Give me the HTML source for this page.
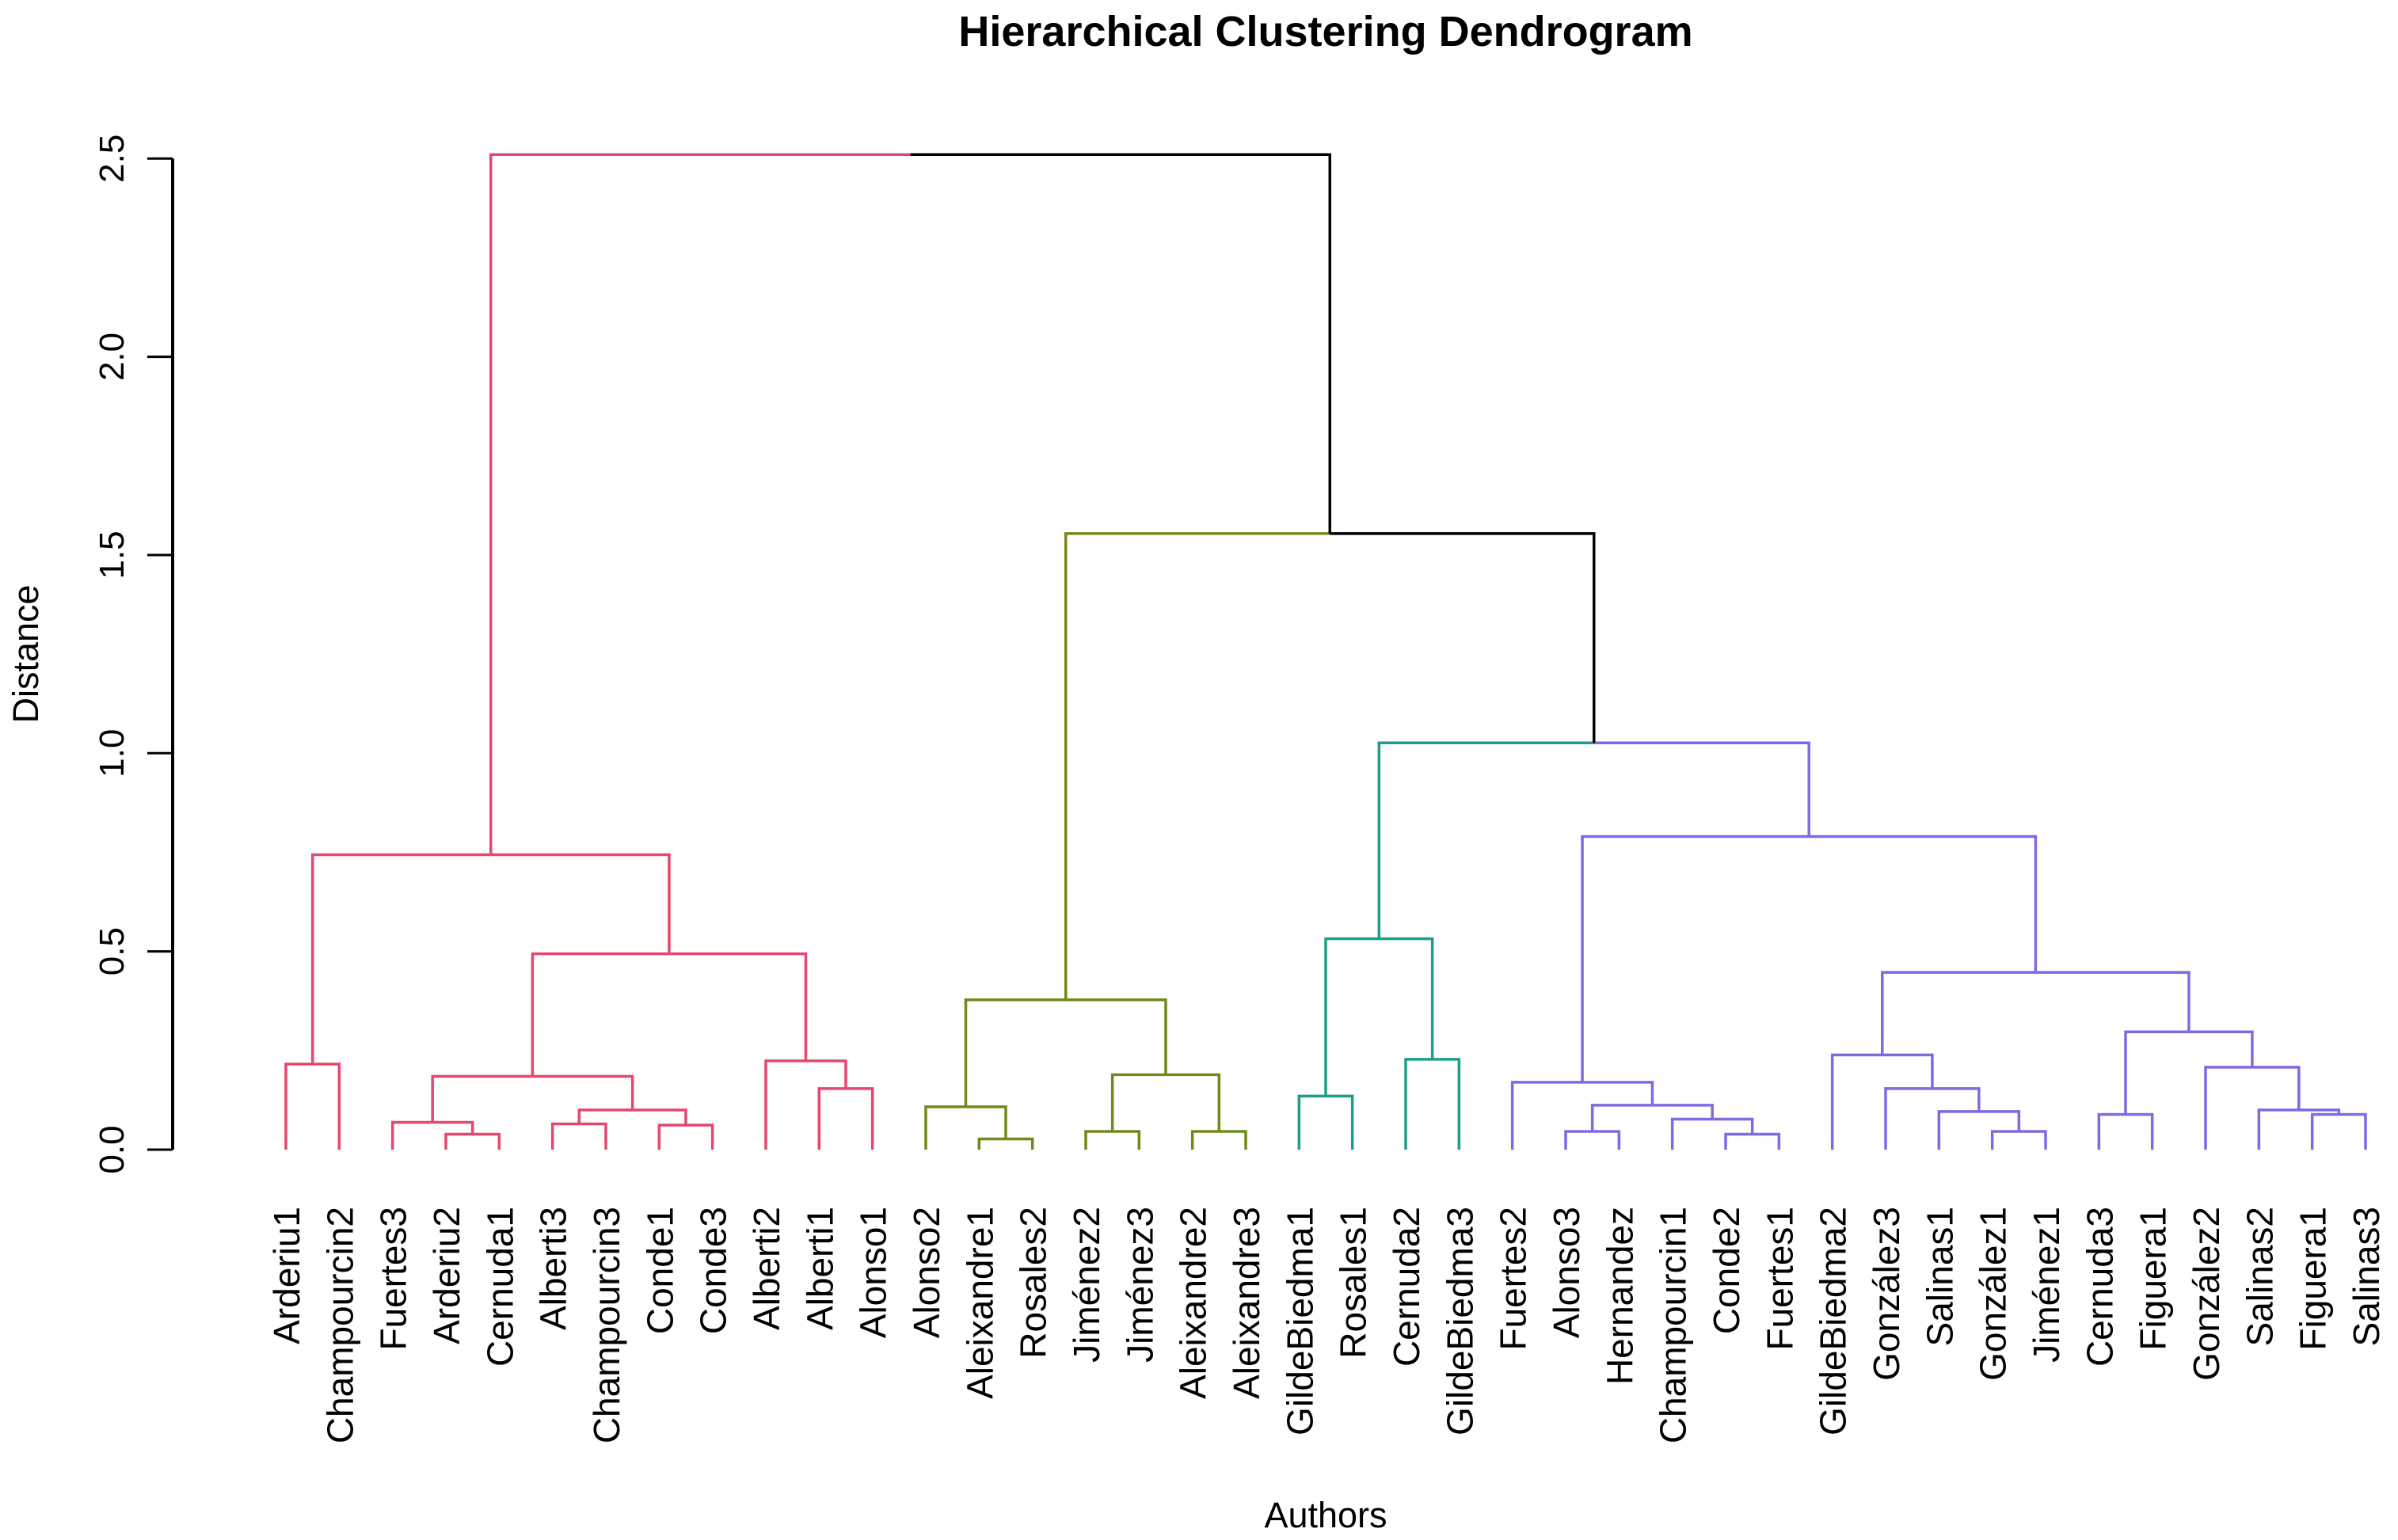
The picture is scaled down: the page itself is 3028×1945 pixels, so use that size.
<!DOCTYPE html>
<html><head><meta charset="utf-8"><style>
html,body{margin:0;padding:0;background:#fff;}
svg{display:block;font-family:"Liberation Sans",Arial,sans-serif;}
</style></head><body>
<svg id="chart" width="3028" height="1945" viewBox="0 0 3028 1945" xmlns="http://www.w3.org/2000/svg">
<rect width="3028" height="1945" fill="#fff"/>
<text x="1674" y="58" text-anchor="middle" font-size="54" font-weight="bold">Hierarchical Clustering Dendrogram</text>
<text transform="translate(48,826) rotate(-90)" text-anchor="middle" font-size="45">Distance</text>
<text x="1674" y="1929" text-anchor="middle" font-size="45">Authors</text>
<g id="yaxis"></g>
<g id="tree"></g>
<g id="labels"></g>
</svg>
<script>
const leafLabels = ["Arderiu1","Champourcin2","Fuertes3","Arderiu2","Cernuda1","Alberti3","Champourcin3","Conde1","Conde3","Alberti2","Alberti1","Alonso1","Alonso2","Aleixandre1","Rosales2","Jiménez2","Jiménez3","Aleixandre2","Aleixandre3","GildeBiedma1","Rosales1","Cernuda2","GildeBiedma3","Fuertes2","Alonso3","Hernandez","Champourcin1","Conde2","Fuertes1","GildeBiedma2","González3","Salinas1","González1","Jiménez1","Cernuda3","Figuera1","González2","Salinas2","Figuera1","Salinas3"];
const leafGroups = [0,0,0,0,0,0,0,0,0,0,0,0,1,1,1,1,1,1,1,2,2,2,2,3,3,3,3,3,3,3,3,3,3,3,3,3,3,3,3,3];
const groupColors = ["#E5476F","#6E8A1A","#1E9E88","#7C6BE3"];
const mergeLeft  = [-4,-3,-6,-8,3,2,-11,-10,6,-1,10,-14,-13,-16,-18,14,13,-20,-22,18,-28,-27,-25,23,-24,-33,-32,-31,-30,-35,-39,-38,-37,30,29,25,20,17,11];
const mergeRight = [-5,1,-7,-9,4,5,-12,7,8,-2,9,-15,12,-17,-19,15,16,-21,-23,19,-29,21,-26,22,24,-34,26,27,28,-36,-40,31,32,33,34,35,36,37,38];
const mergeHeights = [0.039,0.069,0.065,0.062,0.10,0.185,0.154,0.224,0.494,0.216,0.744,0.027,0.108,0.046,0.046,0.189,0.378,0.135,0.228,0.532,0.039,0.077,0.046,0.112,0.17,0.046,0.096,0.154,0.239,0.089,0.089,0.10,0.208,0.297,0.447,0.79,1.026,1.554,2.51];
const yTicks = [0,0.5,1,1.5,2,2.5];
const yTickLabels = ["0.0","0.5","1.0","1.5","2.0","2.5"];

const NS="http://www.w3.org/2000/svg";
const x0=361, x1=2987;
function xLeaf(i){return x0+(x1-x0)*i/(leafLabels.length-1);}
function yScale(h){return 1452-h*500.7;}
function mk(tag,attrs,parent){const e=document.createElementNS(NS,tag);for(const k in attrs)e.setAttribute(k,attrs[k]);parent.appendChild(e);return e;}

const yaxis=document.getElementById('yaxis');
const axLine=mk('line',{x1:218,x2:218,y1:yScale(yTicks[0]),y2:yScale(yTicks[yTicks.length-1]),stroke:'#000','stroke-width':4},yaxis);


yTicks.forEach((t,i)=>{
  const y=yScale(t);
  const tk=mk('line',{x1:186,x2:218,y1:y,y2:y,stroke:'#000','stroke-width':3},yaxis);
  
  
  const lb=mk('text',{transform:`translate(156,${y}) rotate(-90)`,'text-anchor':'middle','font-size':44},yaxis);
  lb.textContent=yTickLabels[i];
  
  
});

const tree=document.getElementById('tree');
const nodeX=[],nodeH=[],nodeG=[];
function info(ref){
  if(ref<0){const i=-ref-1;return {x:xLeaf(i),h:0,g:leafGroups[i]};}
  const j=ref-1;return {x:nodeX[j],h:nodeH[j],g:nodeG[j]};
}
for(let j=0;j<mergeLeft.length;j++){
  const a=info(mergeLeft[j]),b=info(mergeRight[j]);
  const px=(a.x+b.x)/2,h=mergeHeights[j];
  nodeX.push(px);nodeH.push(h);nodeG.push(a.g===b.g?a.g:-1);
  [a,b].forEach(c=>{
    const col=c.g>=0?groupColors[c.g]:'#000';
    const p=mk('path',{d:`M${c.x},${yScale(c.h)}V${yScale(h)}H${px}`,fill:'none',stroke:col,'stroke-width':3.5},tree);
    
    
  });
}

const labels=document.getElementById('labels');
leafLabels.forEach((s,i)=>{
  const t=mk('text',{transform:`translate(${xLeaf(i)+17},1524) rotate(-90)`,'text-anchor':'end','font-size':46},labels);
  t.textContent=s;
  
  
});
</script>
</body></html>
